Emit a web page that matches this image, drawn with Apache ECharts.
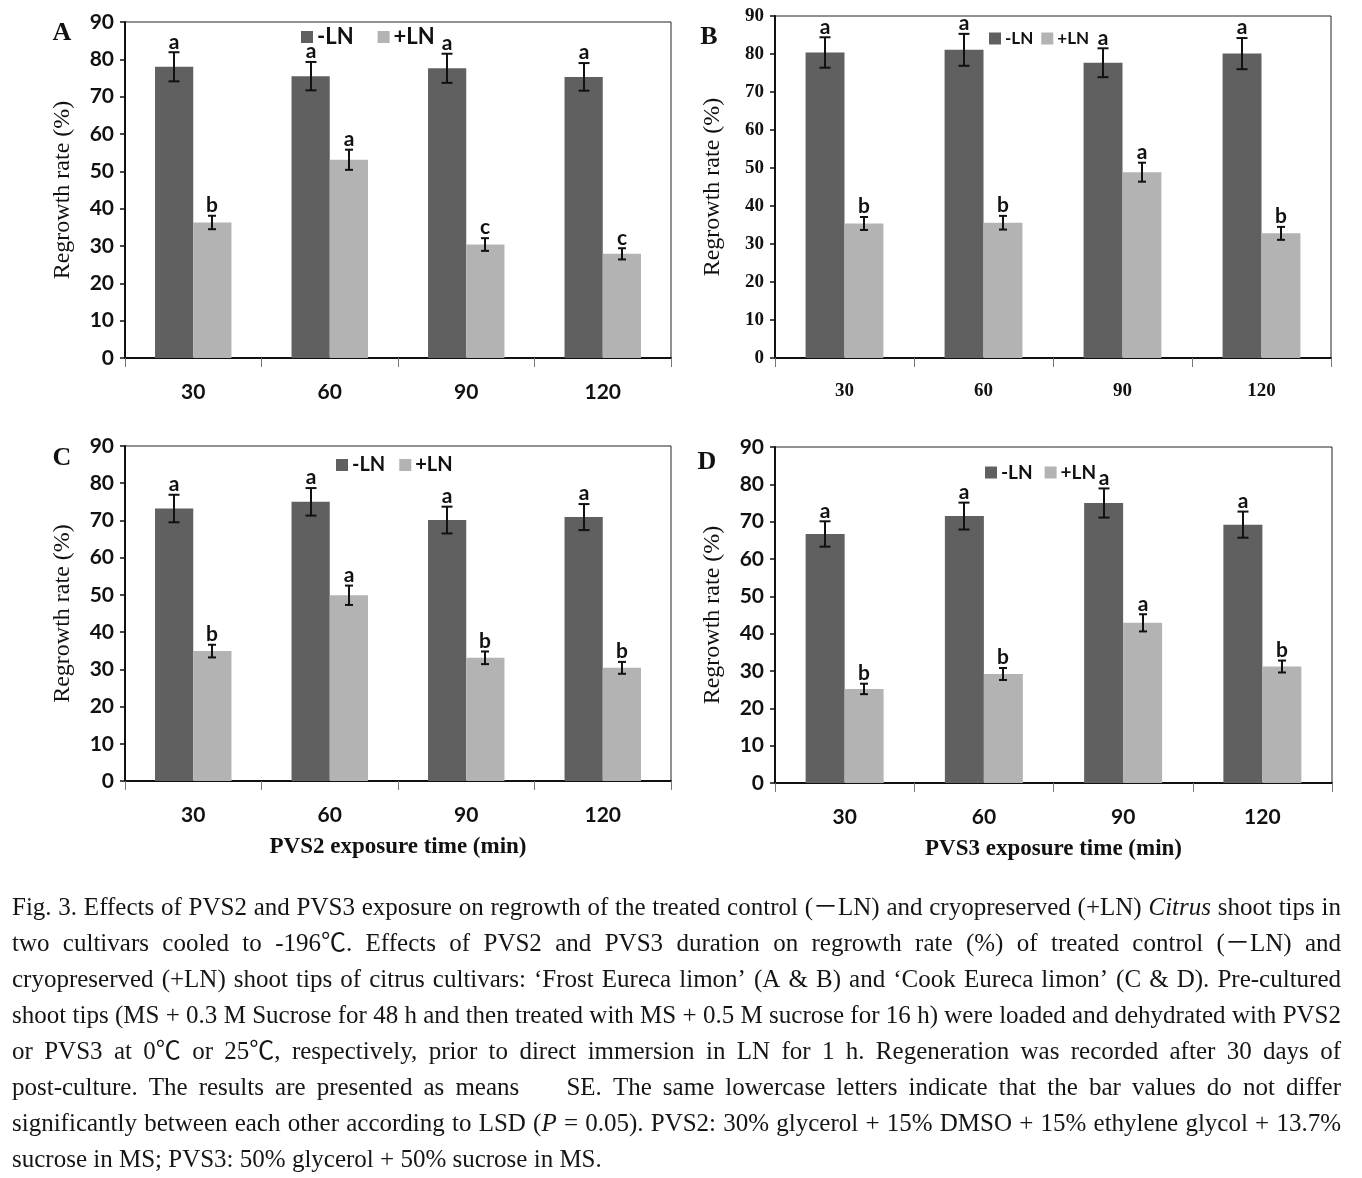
<!DOCTYPE html>
<html>
<head>
<meta charset="utf-8">
<script src="https://cdn.jsdelivr.net/npm/echarts@6/dist/echarts.min.js"></script>
<style>
html,body{margin:0;padding:0;background:#fff;}
#main{width:1362px;height:1178px;}
</style>
</head>
<body>
<div id="main"></div>
<script>
// ---------------- DATA ----------------
const categories = ['30', '60', '90', '120'];
const seriesNames = ['-LN', '+LN'];
const panelLabels = ['A', 'B', 'C', 'D'];

const A_minusLN = [78.0, 75.5, 77.6, 75.3];
const A_minusLN_se = [3.9, 3.8, 3.9, 3.7];
const A_plusLN = [36.3, 53.1, 30.4, 27.9];
const A_plusLN_se = [1.8, 2.7, 1.7, 1.5];
const A_minusLN_letters = ['a', 'a', 'a', 'a'];
const A_plusLN_letters = ['b', 'a', 'c', 'c'];

const B_minusLN = [80.4, 81.1, 77.7, 80.1];
const B_minusLN_se = [4.0, 4.2, 3.8, 4.1];
const B_plusLN = [35.4, 35.6, 48.9, 32.8];
const B_plusLN_se = [1.7, 1.8, 2.5, 1.7];
const B_minusLN_letters = ['a', 'a', 'a', 'a'];
const B_plusLN_letters = ['b', 'b', 'a', 'b'];

const C_minusLN = [73.2, 75.0, 70.1, 70.9];
const C_minusLN_se = [3.7, 3.7, 3.6, 3.5];
const C_plusLN = [34.9, 49.9, 33.1, 30.4];
const C_plusLN_se = [1.7, 2.6, 1.7, 1.6];
const C_minusLN_letters = ['a', 'a', 'a', 'a'];
const C_plusLN_letters = ['b', 'a', 'b', 'b'];

const D_minusLN = [66.7, 71.5, 75.0, 69.2];
const D_minusLN_se = [3.4, 3.6, 3.9, 3.5];
const D_plusLN = [25.2, 29.2, 42.9, 31.2];
const D_plusLN_se = [1.4, 1.6, 2.3, 1.6];
const D_minusLN_letters = ['a', 'a', 'a', 'a'];
const D_plusLN_letters = ['b', 'b', 'a', 'b'];

const xAxisTitles = ['', '', 'PVS2 exposure time (min)', 'PVS3 exposure time (min)'];
const yAxisTitle = 'Regrowth rate (%)';

// caption lines; text between underscores is italic
const captionLines = [
  'Fig. 3. Effects of PVS2 and PVS3 exposure on regrowth of the treated control (\uFF0DLN) and cryopreserved (+LN) _Citrus_ shoot tips in',
  'two cultivars cooled to -196\u2103. Effects of PVS2 and PVS3 duration on regrowth rate (%) of treated control (\uFF0DLN) and',
  'cryopreserved (+LN) shoot tips of citrus cultivars: \u2018Frost Eureca limon\u2019 (A & B) and \u2018Cook Eureca limon\u2019 (C & D). Pre-cultured',
  'shoot tips (MS + 0.3 M Sucrose for 48 h and then treated with MS + 0.5 M sucrose for 16 h) were loaded and dehydrated with PVS2',
  'or PVS3 at 0\u2103 or 25\u2103, respectively, prior to direct immersion in LN for 1 h. Regeneration was recorded after 30 days of',
  'post-culture. The results are presented as means \u2003 SE. The same lowercase letters indicate that the bar values do not differ',
  'significantly between each other according to LSD (_P_ = 0.05). PVS2: 30% glycerol + 15% DMSO + 15% ethylene glycol + 13.7%',
  'sucrose in MS; PVS3: 50% glycerol + 50% sucrose in MS.'
];

// ---------------- LAYOUT ----------------
const panels = [
  {minus: A_minusLN, minusSe: A_minusLN_se, plus: A_plusLN, plusSe: A_plusLN_se, minusL: A_minusLN_letters, plusL: A_plusLN_letters,
   grid: {left: 125, top: 22, width: 546, height: 336}, legend: {left: 301, top: 26, gap: 24, size: 22}, label: [62, 33], serifTicks: false},
  {minus: B_minusLN, minusSe: B_minusLN_se, plus: B_plusLN, plusSe: B_plusLN_se, minusL: B_minusLN_letters, plusL: B_plusLN_letters,
   grid: {left: 775, top: 16, width: 556, height: 342}, legend: {left: 989, top: 30, gap: 8, size: 17}, label: [709, 37], serifTicks: true},
  {minus: C_minusLN, minusSe: C_minusLN_se, plus: C_plusLN, plusSe: C_plusLN_se, minusL: C_minusLN_letters, plusL: C_plusLN_letters,
   grid: {left: 125, top: 446, width: 546, height: 335}, legend: {left: 336, top: 455, gap: 14, size: 20}, label: [62, 458], serifTicks: false},
  {minus: D_minusLN, minusSe: D_minusLN_se, plus: D_plusLN, plusSe: D_plusLN_se, minusL: D_minusLN_letters, plusL: D_plusLN_letters,
   grid: {left: 775, top: 447, width: 557, height: 336}, legend: {left: 985, top: 463, gap: 12, size: 19}, label: [707, 462], serifTicks: false}
];

const DARK = '#606060';
const LIGHT = '#b3b3b3';
const CAT_GAP = 0.44;
const sansBold = 'Lato, "Open Sans", sans-serif';
const serif = '"Liberation Serif", "Times New Roman", "Noto Sans CJK SC", serif';

function errorSeries(pi, vals, ses, letters, sign, capW) {
  return {
    type: 'custom',
    xAxisIndex: pi, yAxisIndex: pi,
    silent: true, z: 10,
    data: vals.map((v, j) => [j, v, ses[j]]),
    encode: {x: 0, y: 1},
    renderItem: function (params, api) {
      const idx = api.value(0), v = api.value(1), se = api.value(2);
      const band = api.size([1, 0])[0];
      const barW = band * (1 - CAT_GAP) / 2;
      const c = api.coord([idx, v]);
      const x = Math.round(c[0] + sign * barW / 2);
      const yt = api.coord([idx, v + se])[1];
      const yb = api.coord([idx, v - se])[1];
      const st = {stroke: '#111', lineWidth: 2};
      return {
        type: 'group',
        children: [
          {type: 'line', shape: {x1: x, y1: yt, x2: x, y2: yb}, style: st},
          {type: 'line', shape: {x1: x - capW / 2, y1: yt, x2: x + capW / 2, y2: yt}, style: st},
          {type: 'line', shape: {x1: x - capW / 2, y1: yb, x2: x + capW / 2, y2: yb}, style: st},
          {type: 'text', style: {text: letters[params.dataIndex], x: x, y: yt, align: 'center', verticalAlign: 'bottom',
            font: 'bold 21px ' + sansBold, fill: '#111'}}
        ]
      };
    }
  };
}

const grids = [], xAxes = [], yAxes = [], legends = [], series = [], graphics = [];
panels.forEach((p, i) => {
  grids.push(Object.assign({show: true, borderColor: '#222', borderWidth: 1, backgroundColor: '#fff'}, p.grid));
  const tickFont = p.serifTicks ? {fontFamily: serif, fontWeight: 'bold', fontSize: 19} : {fontFamily: sansBold, fontWeight: 'bold', fontSize: 21};
  xAxes.push({
    type: 'category', gridIndex: i, data: categories,
    axisLine: {lineStyle: {color: '#111', width: 2}},
    axisTick: {show: true, length: 9, lineStyle: {color: '#777', width: 1}},
    axisLabel: Object.assign({color: '#111', margin: 24}, tickFont),
    name: xAxisTitles[i], nameLocation: 'middle', nameGap: 55,
    nameTextStyle: {fontFamily: serif, fontWeight: 'bold', fontSize: 23, color: '#111'}
  });
  yAxes.push({
    type: 'value', gridIndex: i, min: 0, max: 90, interval: 10,
    splitLine: {show: false},
    axisLine: {show: true, lineStyle: {color: '#111', width: 2}},
    axisTick: {show: true, length: 5, lineStyle: {color: '#111', width: 1.5}},
    axisLabel: Object.assign({color: '#111', margin: 11}, tickFont),
    name: yAxisTitle, nameLocation: 'middle', nameRotate: 90, nameGap: 50,
    nameTextStyle: {fontFamily: serif, fontSize: 24, color: '#111'}
  });
  legends.push({
    data: seriesNames, left: p.legend.left, top: p.legend.top, orient: 'horizontal',
    icon: 'rect', itemWidth: 12, itemHeight: 12, itemGap: p.legend.gap, padding: 0,
    selectedMode: false,
    textStyle: {fontFamily: sansBold, fontWeight: 'bold', fontSize: p.legend.size, color: '#111', padding: [0, 0, 0, -1]}
  });
  series.push({type: 'bar', name: seriesNames[0], xAxisIndex: i, yAxisIndex: i, data: p.minus,
    barGap: '0%', barCategoryGap: (CAT_GAP * 100) + '%', itemStyle: {color: DARK}});
  series.push({type: 'bar', name: seriesNames[1], xAxisIndex: i, yAxisIndex: i, data: p.plus,
    barGap: '0%', barCategoryGap: (CAT_GAP * 100) + '%', itemStyle: {color: LIGHT}});
  series.push(errorSeries(i, p.minus, p.minusSe, p.minusL, -1, 11));
  series.push(errorSeries(i, p.plus, p.plusSe, p.plusL, 1, 8));
  graphics.push({type: 'text', x: p.label[0], y: p.label[1], style: {text: panelLabels[i], font: 'bold 26px ' + serif,
    fill: '#111', align: 'center', verticalAlign: 'middle'}});
});

// ------------- caption (justified) -------------
(function () {
  const ctx = document.createElement('canvas').getContext('2d');
  const size = 25;
  const fontN = size + 'px ' + serif;
  const fontI = 'italic ' + size + 'px ' + serif;
  const X0 = 12, X1 = 1341, Y0 = 908, LH = 36, MIN_GAP = 5;
  captionLines.forEach((line, li) => {
    const words = line.split(' ').filter(w => w.length).map(w => {
      const runs = [];
      w.split('_').forEach((t, k) => { if (t.length) runs.push({t: t, i: k % 2 === 1}); });
      runs.forEach(r => { ctx.font = r.i ? fontI : fontN; r.w = ctx.measureText(r.t).width; });
      return {runs: runs, w: runs.reduce((s, r) => s + r.w, 0)};
    });
    ctx.font = fontN;
    const spaceW = ctx.measureText(' ').width;
    const last = li === captionLines.length - 1;
    const total = words.reduce((s, w) => s + w.w, 0);
    const n = words.length;
    let sx = 1, gap;
    if (last) {
      gap = spaceW;
    } else {
      gap = (X1 - X0 - total) / (n - 1);
      if (gap < MIN_GAP) {
        gap = MIN_GAP;
        sx = (X1 - X0 - MIN_GAP * (n - 1)) / total;
      }
    }
    let x = X0;
    words.forEach(w => {
      let rx = x;
      w.runs.forEach(r => {
        graphics.push({type: 'text', x: rx, y: Y0 + li * LH, scaleX: sx, silent: true,
          style: {text: r.t, font: r.i ? fontI : fontN, fill: '#151515', align: 'left', verticalAlign: 'middle'}});
        rx += r.w * sx;
      });
      x += w.w * sx + gap;
    });
  });
})();

const chart = echarts.init(document.getElementById('main'), null, {renderer: 'canvas'});
chart.setOption({
  animation: false,
  backgroundColor: '#fff',
  grid: grids, xAxis: xAxes, yAxis: yAxes, legend: legends, series: series,
  graphic: graphics
});
</script>
</body>
</html>
